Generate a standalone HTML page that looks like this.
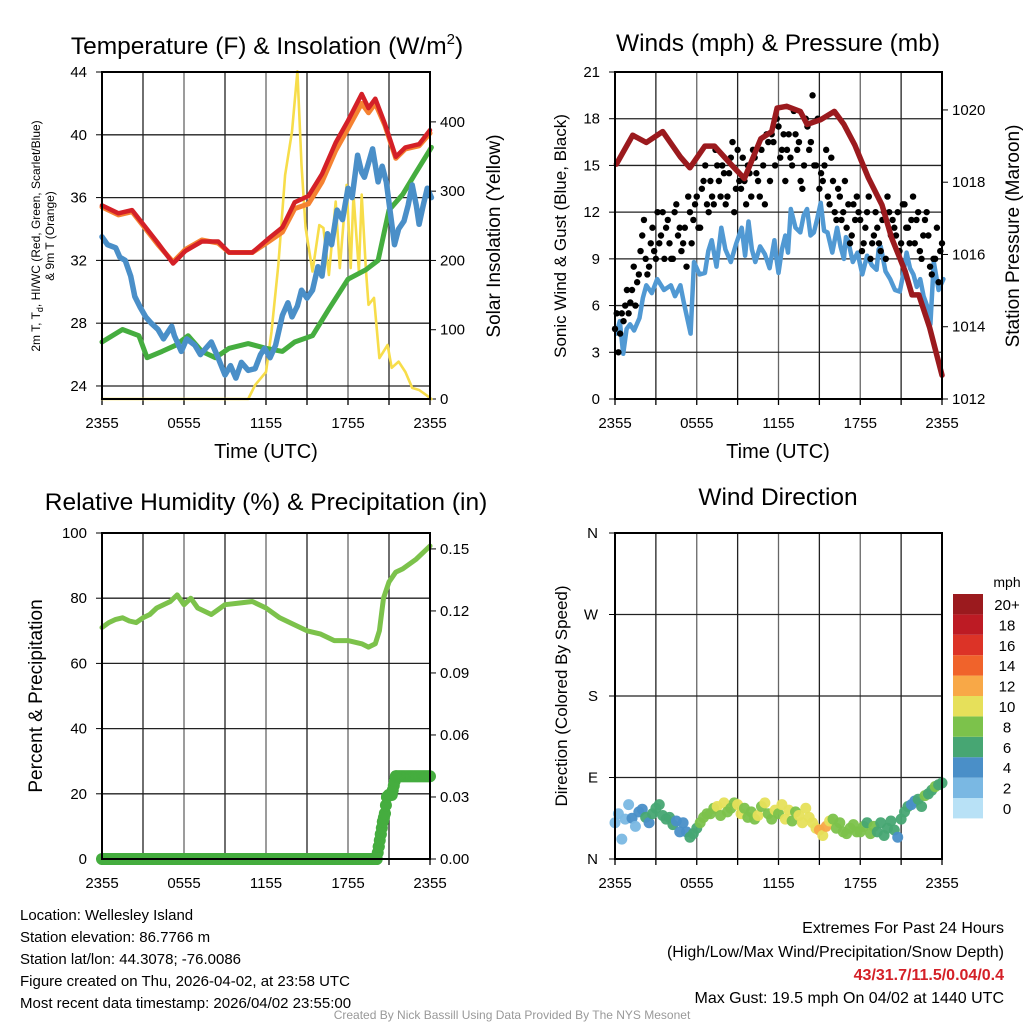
<!DOCTYPE html>
<html><head><meta charset="utf-8"><style>
html,body{margin:0;padding:0;background:#fff}
svg{display:block;font-family:"Liberation Sans",Arial,sans-serif}
</style></head><body>
<svg id="c" width="1024" height="1024" viewBox="0 0 1024 1024" xmlns="http://www.w3.org/2000/svg">
<g id="g"></g>
<text x="267" y="54" font-size="24.5" text-anchor="middle">Temperature (F) &amp; Insolation (W/m<tspan font-size="15" dy="-10">2</tspan><tspan dy="10">)</tspan></text>
<text x="778" y="51" font-size="24.5" text-anchor="middle">Winds (mph) &amp; Pressure (mb)</text>
<text x="266" y="510" font-size="24.5" text-anchor="middle">Relative Humidity (%) &amp; Precipitation (in)</text>
<text x="778" y="505" font-size="24.5" text-anchor="middle">Wind Direction</text>
<text x="266" y="458" font-size="20" text-anchor="middle">Time (UTC)</text>
<text x="778" y="458" font-size="20" text-anchor="middle">Time (UTC)</text>
<text transform="translate(40,236) rotate(-90)" font-size="12" text-anchor="middle">2m T, T<tspan font-size="9" dy="3">d</tspan><tspan dy="-3">, HI/WC (Red, Green, Scarlet/Blue)</tspan></text>
<text transform="translate(54,236) rotate(-90)" font-size="12" text-anchor="middle">&amp; 9m T (Orange)</text>
<text transform="translate(500,236) rotate(-90)" font-size="19" text-anchor="middle">Solar Insolation (Yellow)</text>
<text transform="translate(566,236) rotate(-90)" font-size="17" text-anchor="middle">Sonic Wind &amp; Gust (Blue, Black)</text>
<text transform="translate(1019,236) rotate(-90)" font-size="19" text-anchor="middle">Station Pressure (Maroon)</text>
<text transform="translate(42,696) rotate(-90)" font-size="19" text-anchor="middle">Percent &amp; Precipitation</text>
<text transform="translate(567,696) rotate(-90)" font-size="17" text-anchor="middle">Direction (Colored By Speed)</text>
<g font-size="15">
<text x="20" y="920">Location: Wellesley Island</text>
<text x="20" y="942">Station elevation: 86.7766 m</text>
<text x="20" y="964">Station lat/lon: 44.3078; -76.0086</text>
<text x="20" y="986">Figure created on Thu, 2026-04-02, at 23:58 UTC</text>
<text x="20" y="1008">Most recent data timestamp: 2026/04/02 23:55:00</text>
</g>
<g font-size="16" text-anchor="end">
<text x="1004" y="933">Extremes For Past 24 Hours</text>
<text x="1004" y="957">(High/Low/Max Wind/Precipitation/Snow Depth)</text>
<text x="1004" y="980" fill="#d42027" font-weight="bold">43/31.7/11.5/0.04/0.4</text>
<text x="1004" y="1003">Max Gust: 19.5 mph On 04/02 at 1440 UTC</text>
</g>
<text x="512" y="1019" font-size="12" fill="#999" text-anchor="middle">Created By Nick Bassill Using Data Provided By The NYS Mesonet</text>
</svg>
<script>
const hTemp=[0,1.2,2.2,3.2,4.1,5.2,6.1,7.3,8.5,9.3,11,12.2,13.2,14.1,15.1,16.1,17.1,18,19,19.5,20,20.7,21.5,22.2,23.2,24];
const redT=[35.5,35.0,35.2,34.1,33.1,31.8,32.6,33.2,33.2,32.5,32.5,33.4,34.1,35.7,36.1,37.5,39.5,40.9,42.6,41.7,42.3,40.7,38.6,39.2,39.4,40.3];
const orangeT=[35.4,34.9,35.1,34.0,33.0,31.9,32.7,33.3,33.1,32.5,32.5,33.2,33.8,35.3,35.6,37.0,39.0,40.4,42.0,41.4,42.0,40.6,38.5,39.1,39.3,40.1];
const hBlue=[0,0.4,1,1.3,1.7,2.1,2.4,2.8,3.2,3.6,4.1,4.5,5.1,5.3,5.8,6.2,6.8,7.2,8,8.4,9,9.4,9.8,10.2,10.7,11.2,11.6,11.9,12.3,12.7,13.2,13.6,13.9,14.3,14.6,15,15.4,15.8,16.1,16.5,16.8,17.2,17.6,18,18.3,18.7,19,19.2,19.5,19.8,20.2,20.5,20.8,21.1,21.4,21.7,22.1,22.4,22.7,23,23.2,23.5,23.8,24.1];
const blueT=[33.5,33.0,32.8,32.2,32.0,31.0,29.7,29.0,28.4,28.0,27.6,27.0,27.8,27.2,26.2,27.0,26.6,26.0,26.8,26.0,24.7,25.3,24.5,25.5,25.0,25.1,26.0,26.4,25.8,26.6,28.5,29.3,28.4,29.1,30.1,29.6,30.1,31.6,31.0,33.7,33.0,35.2,34.6,36.6,36.0,38.7,37.6,37.3,38.2,39.1,37.0,38.0,37.0,35.0,33.0,34.0,34.5,35.5,36.8,35.5,34.3,35.5,36.6,36.0];
const hGreen=[0,1.5,2.7,3.3,4.4,5.4,6.3,7.3,8.3,9.3,10.7,12,13.2,14.1,15.4,16.6,18,19.3,20.2,21,22,22.9,24.1];
const greenT=[26.8,27.6,27.2,25.8,26.2,26.6,27.2,26.2,25.8,26.4,26.7,26.4,26.2,26.8,27.2,28.9,30.8,31.4,32,35.2,36.2,37.5,39.2];
const hSun=[0,10.7,11.2,12,12.4,12.9,13.4,13.9,14.3,14.6,14.9,15.4,15.9,16.2,16.6,17.1,17.4,17.9,18.2,18.4,18.8,19,19.3,19.5,19.9,20.3,20.9,21.2,21.7,22.2,22.7,23.2,23.7,24.1];
const sunW=[0,0,20,39,97,193,323,386,473,338,247,184,251,247,179,285,189,309,189,295,184,295,189,136,146,59,78,45,54,39,16,13,6,0];
const hPres=[0.1,1.3,2.3,3.5,4.8,5.5,6.6,7.3,8.5,9.5,10.7,11.5,11.9,12.6,13.6,14.1,15.1,16.1,16.8,17.6,18.6,19.6,20.3,21.3,21.8,22.3,23.1,24];
const pres=[1018.5,1019.3,1019.1,1019.4,1018.7,1018.4,1019.0,1019.0,1018.5,1018.1,1019.2,1019.4,1020.05,1020.1,1019.96,1019.6,1019.73,1019.96,1019.6,1019.03,1018.12,1017.37,1016.46,1015.53,1014.88,1014.88,1013.97,1012.66];
const hWind=[0.1,0.35,0.6,0.85,1.1,1.4,1.8,2.05,2.3,2.7,3.1,3.6,4.1,4.4,4.8,5.05,5.3,5.55,5.8,6.2,6.6,6.85,7.1,7.45,7.8,8.1,8.5,8.9,9.3,9.55,9.8,10.05,10.3,10.65,11.0,11.35,11.7,11.85,12.0,12.25,12.5,12.7,12.9,13.25,13.6,13.85,14.1,14.35,14.6,14.85,15.1,15.35,15.6,15.95,16.3,16.55,16.8,16.95,17.1,17.45,17.8,18.15,18.5,18.85,19.2,19.35,19.5,19.85,20.2,20.55,20.9,21.15,21.4,21.65,21.9,22.15,22.4,22.65,22.9,23.15,23.4,23.75,24.1];
const wind=[4.2,5.0,2.9,4.5,4.8,4.4,5.2,6.5,7.3,6.8,7.7,7.0,7.3,6.6,7.3,6.2,5.2,4.2,8.8,8.0,8.1,9.5,10.2,8.5,11.0,9.6,8.8,10.0,11.0,9.2,11.4,9.6,8.8,9.8,9.3,8.4,10.2,9.0,8.1,9.6,10.5,9.4,12.2,11.0,10.7,11.8,12.2,10.5,10.7,11.6,12.6,10.8,10.7,9.4,11.0,9.8,9.0,10.4,10.2,8.8,9.4,8.0,9.2,8.6,8.3,9.6,9.8,8.2,7.7,7.0,6.9,8.0,9.4,8.4,8.0,7.2,7.7,6.6,6.0,4.8,8.8,7.0,7.7];
const gust=[4.5,3,5.5,6,5.5,7,6,8,10.5,9,8.5,11,9,10,12,11,10,9,12.5,11,10,8.5,12,11.5,13,11,14,12.5,14,12.5,15,13,14.5,13,15.5,12,16,13.5,14,15,13,15.5,14,16,12.5,16.5,17,15,17.5,16,14,17,15,17,16.5,13.5,18,16,19.5,15,13.5,14,16,12.5,14,11.5,13,12,11,10,12.5,13,11.5,10,12,9,10.5,11,9.5,12,13,10.5,11,12,10,12.5,11,11.5,10,12,9,11.5,10.5,8,9,7.5,10];
const gust2=[5.5,4.2,5,7,6.2,8.5,7.5,9.5,11.5,8,10,9.5,12,10.5,9,11.5,9,12,10.5,9.5,11,13,10,12.5,11,13.5,15,12,13,16,14,15,12.5,14.5,16.5,13.5,14,15.5,12.5,14.5,16,14.5,13,15,17,14,16.5,18,15.5,17,16,15.5,18.5,16,14,15,17.5,16.5,15,18,14.5,15,13,15.5,12,13.5,11.5,14,12.5,10.5,11.5,12,9.5,11,13,10,12,10,11.5,9,12,11.5,10.5,9.5,12.5,11,10,13,11.5,9.5,10.5,12,8.5,9,11,9.5];
const hRH=[0,0.5,1,1.5,2,2.5,3,3.5,4,4.5,5,5.5,6,6.5,7,8,9,10,11,12,13,14,15,16,17,18,19,19.5,20,20.3,20.6,21,21.5,22,23,24];
const rh=[71,72.5,73.5,74,73,72.5,74,75,77,78,79,81,78,80,77,75,78,78.5,79,77,74,72,70,69,67,67,66,65,66,70,80,85,88,89,92,96];
const hPcp=[0,20.1,20.25,20.4,20.55,20.7,20.85,21,21.2,21.5,24];
const pcp=[0,0,0.006,0.012,0.018,0.022,0.03,0.031,0.031,0.04,0.04];
const dir=[40,50,22,44,60,45,36,52,55,46,40,50,56,60,48,44,46,38,42,30,40,30,24,28,34,40,46,50,50,56,58,48,62,52,56,62,60,50,56,46,52,44,48,58,62,50,44,54,50,60,44,54,42,52,48,40,56,46,40,34,32,26,36,42,44,34,40,30,28,34,38,30,30,36,40,28,36,30,40,26,34,42,32,24,44,52,58,60,64,66,58,70,72,76,80,82,84];
const spd=[2,3,2,3,3,4,3,4,5,6,5,6,6,7,6,7,6,6,5,4,5,4,6,7,7,8,8,9,8,9,10,9,10,9,8,9,10,10,9,8,9,8,10,9,10,9,8,10,9,10,11,10,8,9,10,11,10,11,10,11,12,11,12,10,9,8,8,9,8,8,9,8,8,9,7,8,8,7,6,7,6,7,6,5,6,7,6,5,5,6,7,8,7,6,8,7,7];
const spdColors=["#b8e1f6","#7ab8e3","#4a8fc8","#47a673","#7cc24b","#e6e05a","#f8a847","#f0632b","#dc3327","#bd1b24","#9b1a1e"];
const spdLabels=["0","2","4","6","8","10","12","14","16","18","20+"];
const timeLabels=["2355","0555","1155","1755","2355"];

const NS="http://www.w3.org/2000/svg";
const G=document.getElementById('g');
function el(t,a,p){const e=document.createElementNS(NS,t);for(const k in a)e.setAttribute(k,a[k]);(p||G).appendChild(e);return e;}
function txt(x,y,s,anchor,size){const e=el('text',{x:x,y:y,'font-size':size||15,'text-anchor':anchor||'middle'});e.textContent=s;return e;}
function panel(x0,x1,y0,y1){return {x0,x1,y0,y1,sx:h=>x0+(x1-x0)*h/24};}
const P1=panel(102,430,72,399),P2=panel(615,942,72,399),P3=panel(102,430,533,859),P4=panel(615,942,533,859);
function lin(d0,d1,r0,r1){return v=>r0+(v-d0)*(r1-r0)/(d1-d0);}
const y1L=lin(23.17,44,399,72),y1R=lin(0,472,399,72);
const y2L=lin(0,21,399,72),y2R=lin(1012,1021.05,399,72);
const y3L=lin(0,100,859,533),y3R=lin(0,0.1577,859,533);
const y4=lin(0,360,859,533);

function frame(P,name,hLinesY){
  const gr=el('g',{});
  
  
  for(let i=1;i<8;i++){const x=P.sx(i*3);el('line',{x1:x,x2:x,y1:P.y0,y2:P.y1,stroke:i%2?'#222':'#666','stroke-width':1.3},gr);}
  hLinesY.forEach(y=>el('line',{x1:P.x0,x2:P.x1,y1:y,y2:y,stroke:'#222','stroke-width':1.3},gr));
  for(let i=0;i<=8;i++){const x=P.sx(i*3);el('line',{x1:x,x2:x,y1:P.y1,y2:P.y1+6,stroke:'#000','stroke-width':1.3},gr);}
  timeLabels.forEach((s,i)=>{const t=txt(P.sx(i*6),P.y1+29,s,'middle',15);});
}
function border(P,name){const r=el('rect',{x:P.x0,y:P.y0,width:P.x1-P.x0,height:P.y1-P.y0,fill:'none',stroke:'#000','stroke-width':2});}
function path(hs,vs,P,yf,color,w,name){
  let d='';hs.forEach((h,i)=>{d+=(i?'L':'M')+P.sx(h).toFixed(1)+','+yf(vs[i]).toFixed(1);});
  const p=el('path',{d:d,fill:'none',stroke:color,'stroke-width':w,'stroke-linejoin':'round','stroke-linecap':'round'});
  
  
  return p;
}
function leftTicks(P,vals,yf,fmt){vals.forEach(v=>{const y=yf(v);el('line',{x1:P.x0-6,x2:P.x0,y1:y,y2:y,stroke:'#000'});const t=txt(P.x0-15,y+5,fmt?fmt(v):String(v),'end',15);});}
function rightTicks(P,vals,yf,fmt){vals.forEach(v=>{const y=yf(v);el('line',{x1:P.x1,x2:P.x1+6,y1:y,y2:y,stroke:'#000'});const t=txt(P.x1+10,y+5,fmt?fmt(v):String(v),'start',15);});}

// Panel 1
const t1=[24,28,32,36,40,44];
frame(P1,'temp',t1.slice(0,5).map(y1L));
leftTicks(P1,t1,y1L);
rightTicks(P1,[0,100,200,300,400],y1R);
path(hSun,sunW,P1,y1R,'#f7dd4a',2.6,'insolation-line');
path(hGreen,greenT,P1,y1L,'#45ad3f',5,'dewpoint-line');
path(hBlue,blueT,P1,y1L,'#4a8fc8',5.5,'windchill-line');
path(hTemp,orangeT,P1,y1L,'#f58231',5,'temp-9m-line');
path(hTemp,redT,P1,y1L,'#d42027',4.5,'temp-2m-line');
border(P1,'temp');

// Panel 2
const t2=[0,3,6,9,12,15,18,21];
frame(P2,'wind',t2.slice(1,7).map(y2L));
leftTicks(P2,t2,y2L);
rightTicks(P2,[1012,1014,1016,1018,1020],y2R);
path(hWind,wind,P2,y2L,'#5199d3',4.5,'wind-line');
gust.forEach((g,i)=>{const c=el('circle',{cx:P2.sx(i*0.25),cy:y2L(g),r:3.2,fill:'#000'});

});
gust2.forEach((g,i)=>{const c=el('circle',{cx:P2.sx(i*0.25+0.125),cy:y2L(g),r:3.2,fill:'#000'});

});
path(hPres,pres,P2,y2R,'#9b1a1e',5.5,'pressure-line');
border(P2,'wind');

// Panel 3
const t3=[0,20,40,60,80,100];
frame(P3,'rh',[20,40,60,80].map(y3L));
leftTicks(P3,t3,y3L);
rightTicks(P3,[0,0.03,0.06,0.09,0.12,0.15],y3R,v=>v.toFixed(2));
path(hRH,rh,P3,y3L,'#7cc24b',5,'rh-line');
for(let i=0;i<hPcp.length-1;i++){const n=Math.max(1,Math.round((hPcp[i+1]-hPcp[i])*12));for(let k=0;k<=n;k++){const h=hPcp[i]+(hPcp[i+1]-hPcp[i])*k/n;const v=pcp[i]+(pcp[i+1]-pcp[i])*k/n;const c=el('circle',{cx:P3.sx(h),cy:y3R(v),r:6,fill:'#45ad3f'});

}}
border(P3,'rh');

// Panel 4
frame(P4,'wdir',[90,180,270].map(y4));
[['N',0],['E',90],['S',180],['W',270],['N',360]].forEach(([s,v])=>{const y=y4(v);el('line',{x1:P4.x0-6,x2:P4.x0,y1:y,y2:y,stroke:'#000'});const t=txt(P4.x0-17,y+5,s,'end',15);});
dir.forEach((d,i)=>{const ci=Math.min(10,Math.floor(spd[i]/2));const c=el('circle',{cx:P4.sx(i*0.25),cy:y4(d),r:5.5,fill:spdColors[ci],'fill-opacity':0.95});

});
border(P4,'wdir');
// colorbar
const cbT=txt(1007,587,'mph','middle',14);


for(let i=0;i<11;i++){const top=594+(10-i)*20.4;const r=el('rect',{x:953,y:top,width:30,height:20.4,fill:spdColors[i]});


const t=txt(1007,top+16,spdLabels[i],'middle',15);

}
</script>
</body></html>
